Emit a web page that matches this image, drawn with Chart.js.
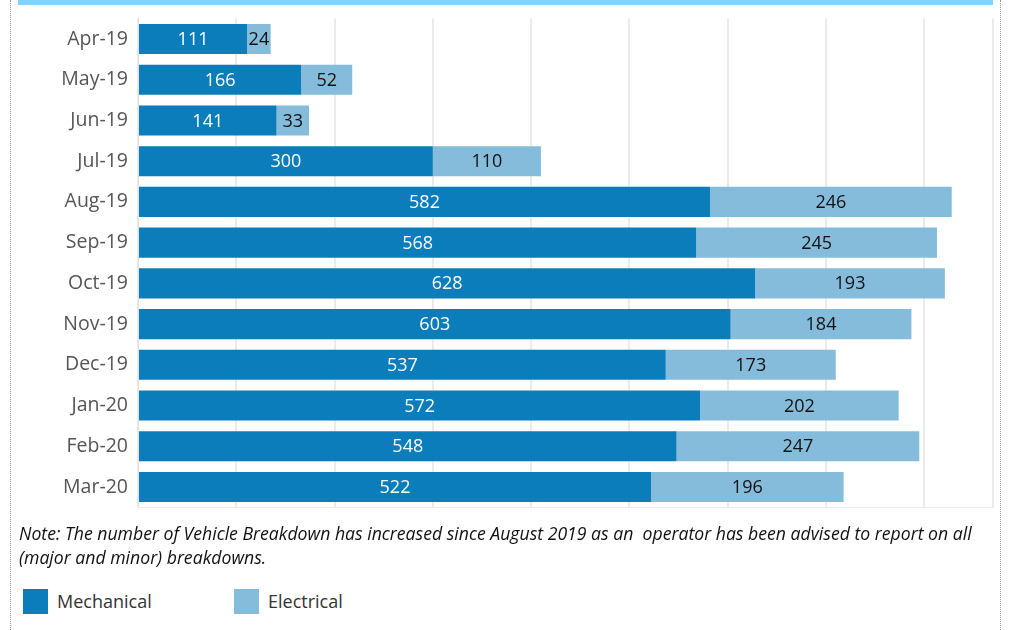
<!DOCTYPE html>
<html>
<head>
<meta charset="utf-8">
<script src="https://cdn.jsdelivr.net/npm/chart.js@4"></script>
<style>
  body { margin: 0; background: #fff; font-family: "Open Sans", sans-serif; }
  #wrap { position: relative; width: 1017px; height: 630px; overflow: hidden; }
  #band { position: absolute; left: 18px; top: 0; width: 975px; height: 5px; background: #80d4ff; z-index: 2; }
  .dots { position: absolute; top: 0; height: 630px; border-left: 1px dotted #999; }
  #chartBox { position: absolute; left: 0; top: -3px; width: 1017px; height: 532px; }
  #note { position: absolute; left: 19px; top: 521px; font-style: italic; font-size: 17.65px; line-height: 24px; color: #111; white-space: nowrap; }
  #legend { position: absolute; left: 23px; top: 589px; font-size: 18px; color: #333; }
  .item { position: absolute; top: 0; white-space: nowrap; }
  .sw { position: absolute; left: 0; top: 0; width: 25px; height: 25px; }
  .lbl { position: absolute; left: 34px; top: 0; line-height: 25px; }
</style>
</head>
<body>
<div id="wrap">
  <div id="band"></div>
  <div class="dots" style="left:10px"></div>
  <div class="dots" style="left:1000px"></div>
  <div id="chartBox"><canvas id="breakdownChart"></canvas></div>
  <div id="note">Note: The number of Vehicle Breakdown has increased since August 2019 as an &nbsp;operator has been advised to report on all<br>(major and minor) breakdowns.</div>
  <div id="legend"></div>
</div>
<script>
const months = ["Apr-19", "May-19", "Jun-19", "Jul-19", "Aug-19", "Sep-19", "Oct-19", "Nov-19", "Dec-19", "Jan-20", "Feb-20", "Mar-20"];
const mechanical = [111, 166, 141, 300, 582, 568, 628, 603, 537, 572, 548, 522];
const electrical = [24, 52, 33, 110, 246, 245, 193, 184, 173, 202, 247, 196];
const seriesNames = ["Mechanical", "Electrical"];
const seriesColors = ["#0b7dba", "#85bcdc"];
const labelColors = ["#ffffff", "#111111"];

// draws the value in the middle of each bar segment
const barValues = {
    id: "barValues",
    afterDatasetsDraw(chart) {
        const ctx = chart.ctx;
        ctx.save();
        ctx.font = "18px 'Open Sans', sans-serif";
        ctx.textAlign = "center";
        ctx.textBaseline = "middle";
        chart.data.datasets.forEach((ds, i) => {
            chart.getDatasetMeta(i).data.forEach((bar, j) => {
                const p = bar.getProps(["x", "y", "base"], true);
                ctx.fillStyle = labelColors[i];
                ctx.fillText(ds.data[j], (p.x + p.base) / 2, p.y + 1);
            });
        });
        ctx.restore();
    }
};

new Chart(document.getElementById("breakdownChart"), {
    type: "bar",
    data: {
        labels: months,
        datasets: [
            { label: seriesNames[0], data: mechanical, backgroundColor: seriesColors[0] },
            { label: seriesNames[1], data: electrical, backgroundColor: seriesColors[1] }
        ]
    },
    options: {
        indexAxis: "y",
        responsive: true,
        maintainAspectRatio: false,
        animation: false,
        categoryPercentage: 0.74,
        barPercentage: 1,
        layout: { padding: { left: 0, right: 24, top: 15, bottom: 11 } },
        plugins: { legend: { display: false }, tooltip: { enabled: false } },
        scales: {
            x: {
                stacked: true,
                min: 0,
                max: 870,
                ticks: { display: false, stepSize: 100 },
                grid: { color: "#ebebeb", lineWidth: 2, drawTicks: false },
                border: { display: true, color: "#ebebeb", width: 1 },
                afterFit(scale) { scale.height = 0; }
            },
            y: {
                stacked: true,
                grid: { display: false, drawTicks: false },
                border: { display: true, color: "#e0e0e0" },
                ticks: { color: "#555", font: { size: 19.5, family: "'Open Sans', sans-serif" }, padding: 10 },
                afterFit(scale) { scale.width = 138; }
            }
        }
    },
    plugins: [barValues]
});

// legend built from the same series
const legend = document.getElementById("legend");
seriesNames.forEach((name, i) => {
    const item = document.createElement("div");
    item.className = "item";
    item.style.left = (i * 211) + "px";
    item.innerHTML = '<div class="sw" style="background:' + seriesColors[i] + '"></div><div class="lbl">' + name + '</div>';
    legend.appendChild(item);
});
</script>
</body>
</html>
